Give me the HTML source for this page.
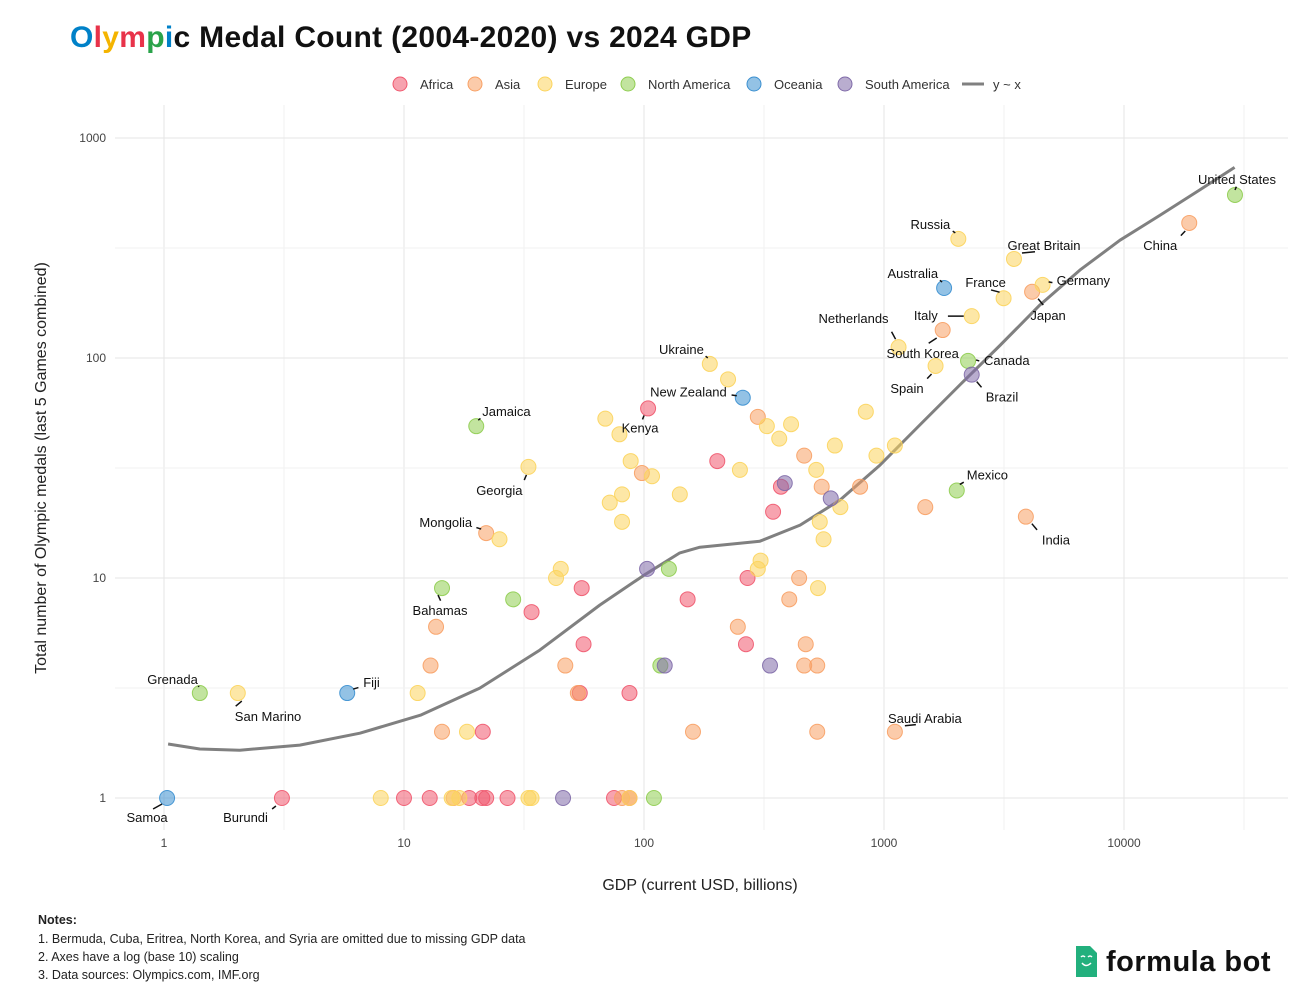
<!DOCTYPE html>
<html><head><meta charset="utf-8">
<style>
body{margin:0;background:#fff;width:1300px;height:1000px;overflow:hidden;font-family:"Liberation Sans",sans-serif;}
svg{display:block}
</style></head>
<body>
<svg id="chart" width="1300" height="1000" xmlns="http://www.w3.org/2000/svg">
<text x="70" y="47" font-size="30" font-weight="bold" fill="#111" letter-spacing="0.3"><tspan fill="#0081c8">O</tspan><tspan fill="#e8334a">l</tspan><tspan fill="#f4b400">y</tspan><tspan fill="#e8334a">m</tspan><tspan fill="#2aa34a">p</tspan><tspan fill="#0081c8">i</tspan>c Medal Count (2004-2020) vs 2024 GDP</text>
<g id="grid"></g>
<g id="axes"></g>
<g id="trend"></g>
<g id="pts"></g>
<g id="lbls"></g>
<g id="legend"></g>
<text x="700" y="890" font-size="16" text-anchor="middle" fill="#222">GDP (current USD, billions)</text>
<text transform="translate(46,468) rotate(-90)" font-size="16" text-anchor="middle" fill="#222">Total number of Olympic medals (last 5 Games combined)</text>
<g font-size="12.5" fill="#222">
<text x="38" y="924" font-weight="bold">Notes:</text>
<text x="38" y="943">1. Bermuda, Cuba, Eritrea, North Korea, and Syria are omitted due to missing GDP data</text>
<text x="38" y="961">2. Axes have a log (base 10) scaling</text>
<text x="38" y="979">3. Data sources: Olympics.com, IMF.org</text>
</g>
<g>
<path d="M1076 946 h14 l7 7 v24 h-21 z" fill="#22b07d"/>
<path d="M1081 957 q2 -2 4 0 M1088 957 q2 -2 4 0 M1082 963 q4 5 9 0" stroke="#fff" stroke-width="1.5" fill="none"/>
<text x="1106" y="971" font-size="29" font-weight="bold" fill="#111" letter-spacing="0.5">formula bot</text>
</g>
</svg>
<script>
const regions=["Africa","Asia","Europe","North America","Oceania","South America"];
const colors=["#f0586e","#f8a064","#fcd45c","#8fcd50","#3a8fd0","#7f6aa8"];
const gdp=[3.1,10,12.8,18.7,21.2,22,27,75,87,21.3,34,55,56,54,87,104,202,152,270,266,345,372,
13.6,12.9,14.4,22,16.1,81,47,53,98,298,246,443,465,472,465,527,527,160,795,1486,1756,4140,3900,18700,1110,403,550,
8,15.8,17,33,34,87,11.4,18.3,2.03,25,33,43,45,69,79,88,108,72,81,81,141,188,224,325,366,410,251,298,306,522,540,560,531,624,658,840,930,1110,1150,1640,2320,3150,4580,3480,2040,
1.41,20,14.4,28.5,110,117,127,2240,2010,29000,
1.03,5.8,258,1780,
46,103,122,335,386,600,2320];
const medals=[1,1,1,1,1,1,1,1,1,2,7,9,5,3,3,59,34,8,10,5,20,26,
6,4,2,16,1,1,4,3,30,54,6,10,36,5,4,4,2,2,26,21,134,200,19,411,2,8,26,
1,1,1,1,1,1,3,2,3,15,32,10,11,53,45,34,29,22,24,18,24,94,80,49,43,50,31,11,12,31,18,15,9,40,21,57,36,40,112,92,155,187,215,282,348,
3,49,9,8,1,4,11,97,25,551,
1,3,66,208,
1,11,4,4,27,23,84];
const regionIdx=[0,0,0,0,0,0,0,0,0,0,0,0,0,0,0,0,0,0,0,0,0,0,
1,1,1,1,1,1,1,1,1,1,1,1,1,1,1,1,1,1,1,1,1,1,1,1,1,1,1,
2,2,2,2,2,2,2,2,2,2,2,2,2,2,2,2,2,2,2,2,2,2,2,2,2,2,2,2,2,2,2,2,2,2,2,2,2,2,2,2,2,2,2,2,2,
3,3,3,3,3,3,3,3,3,3,
4,4,4,4,
5,5,5,5,5,5,5];
const trendGdp=[1.04,1.41,2.07,3.68,6.55,11.7,20.7,36.8,65.5,100,141,171,207,304,447,655,962,1410,2070,3040,4460,6550,9620,14100,20700,28900];
const trendMedals=[1.76,1.67,1.65,1.74,1.97,2.38,3.16,4.7,7.54,10.3,13.0,13.8,14.1,14.7,17.4,22.6,32.6,49.6,75.4,114,174,251,343,445,581,735];
const xTicks=[1,10,100,1000,10000];
const xTickLabels=["1","10","100","1000","10000"];
const yTicks=[1,10,100,1000];
const yTickLabels=["1","10","100","1000"];
const labelIdx=[0,15,25,42,43,44,45,46,57,59,70,87,88,89,90,91,92,93,94,95,96,101,102,103,104,105,106,107,114];
const labelText=["Burundi","Kenya","Mongolia","South Korea","Japan","India","China","Saudi Arabia","San Marino","Georgia","Ukraine","Netherlands","Spain","Italy","France","Germany","Great Britain","Russia","Grenada","Jamaica","Bahamas","Canada","Mexico","United States","Samoa","Fiji","New Zealand","Australia","Brazil"];

const NS="http://www.w3.org/2000/svg";
const X=v=>164+240*Math.log10(v);
const Y=v=>798-220*Math.log10(v);
function mk(tag,attrs,parent){const e=document.createElementNS(NS,tag);for(const k in attrs)e.setAttribute(k,attrs[k]);parent.appendChild(e);return e;}
const grid=document.getElementById('grid'),axes=document.getElementById('axes');
for(let k=0;k<=4;k++){
 [1,Math.sqrt(10)].forEach((m,j)=>{const v=Math.pow(10,k)*m;const x=X(v);if(x>1290)return;
  const l=mk('line',{x1:x,x2:x,y1:105,y2:830,stroke:j?'#f2f2f2':'#e6e6e6','stroke-width':1},grid);
  
  });
}
for(let k=0;k<=3;k++){
 [1,Math.sqrt(10)].forEach((m,j)=>{const v=Math.pow(10,k)*m;const y=Y(v);if(y<105)return;
  const l=mk('line',{x1:115,x2:1288,y1:y,y2:y,stroke:j?'#f2f2f2':'#e6e6e6','stroke-width':1},grid);
  
  });
}
xTicks.forEach((v,i)=>{const t=mk('text',{x:X(v),y:847,'font-size':12,'text-anchor':'middle',fill:'#444'},axes);t.textContent=xTickLabels[i];
 
 });
yTicks.forEach((v,i)=>{const t=mk('text',{x:106,y:Y(v)+4,'font-size':12,'text-anchor':'end',fill:'#444'},axes);t.textContent=yTickLabels[i];
 
 });
let d='';trendGdp.forEach((g,i)=>{d+=(i?'L':'M')+X(g).toFixed(1)+' '+Y(trendMedals[i]).toFixed(1)+' ';});
const tp=mk('path',{d:d,fill:'none',stroke:'#808080','stroke-width':3,'stroke-linejoin':'round'},document.getElementById('trend'));


const pts=document.getElementById('pts');
gdp.forEach((g,i)=>{const r=regionIdx[i];
 const c=mk('circle',{cx:X(g),cy:Y(medals[i]),r:7.5,fill:colors[r],'fill-opacity':0.55,stroke:colors[r],'stroke-opacity':0.9,'stroke-width':1},pts);
 
 });
const offs={"Burundi":[-14,20,'end',-6,8],"Kenya":[-8,20,'middle',-4,7],"Mongolia":[-14,-10,'end',-5,-4],"South Korea":[-20,24,'middle',-6,8],"Japan":[16,24,'middle',6,7],"India":[16,24,'start',6,7],"China":[-12,23,'end',-4,8],"Saudi Arabia":[30,-13,'middle',10,-6],"San Marino":[-3,24,'start',4,8],"Georgia":[-6,24,'end',-2,8],"Ukraine":[-6,-14,'end',-2,-6],"Netherlands":[-10,-28,'end',-3,-8],"Spain":[-12,23,'end',-4,8],"Italy":[-34,0,'end',-8,0],"France":[-18,-15,'middle',-4,-6],"Germany":[14,-4,'start',6,-3],"Great Britain":[30,-13,'middle',8,-6],"Russia":[-8,-14,'end',-3,-6],"Grenada":[-2,-13,'end',-1,-6],"Jamaica":[6,-14,'start',2,-6],"Bahamas":[-2,23,'middle',-4,7],"Canada":[16,0,'start',8,-1],"Mexico":[10,-15,'start',3,-6],"United States":[2,-15,'middle',0,-5],"Samoa":[-20,20,'middle',-5,6],"Fiji":[16,-10,'start',6,-4],"New Zealand":[-16,-5,'end',-6,-2],"Australia":[-6,-14,'end',-2,-6],"Brazil":[14,23,'start',5,7]};
const lg=document.getElementById('lbls');
labelIdx.forEach((idx,i)=>{const name=labelText[i];const o=offs[name];
 const px=X(gdp[idx]),py=Y(medals[idx]);
 const ln=mk('line',{x1:px+o[3],y1:py+o[4],x2:px+o[0]*0.7,y2:py+o[1]*0.55,stroke:'#111','stroke-width':1.5},lg);
 
 
 const t=mk('text',{x:px+o[0],y:py+o[1]+4,'font-size':13,'text-anchor':o[2],fill:'#111'},lg);t.textContent=name;
 
 });
const leg=document.getElementById('legend');
const legX=[400,475,545,628,754,845];
regions.forEach((r,i)=>{
 const c=mk('circle',{cx:legX[i],cy:84,r:7,fill:colors[i],'fill-opacity':0.55,stroke:colors[i]},leg);
 
 
 const t=mk('text',{x:legX[i]+20,y:89,'font-size':13,fill:'#333'},leg);t.textContent=r;
 
 });
const ll=mk('line',{x1:962,x2:984,y1:84,y2:84,stroke:'#808080','stroke-width':3},leg);


const lt=mk('text',{x:993,y:89,'font-size':13,fill:'#333'},leg);lt.textContent='y ~ x';


</script>
</body></html>
